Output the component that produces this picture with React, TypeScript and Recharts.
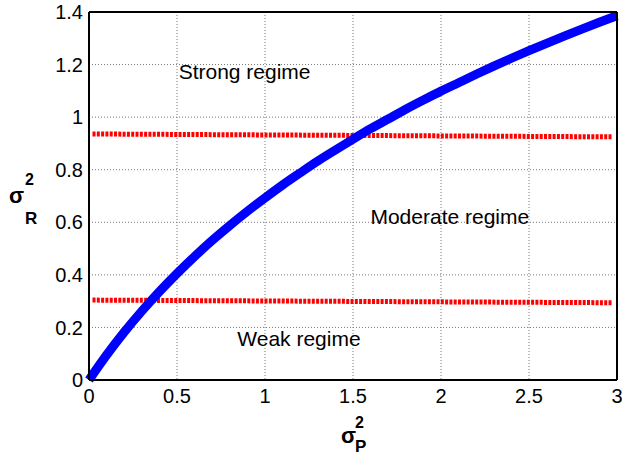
import React from "react";
import { LineChart, Line, XAxis, YAxis, CartesianGrid, ReferenceDot, Label } from "recharts";

// sigma_P^2 vs sigma_R^2 curve
const curveX = [0, 0.1, 0.2, 0.3, 0.4, 0.5, 0.6, 0.7, 0.8, 0.9, 1.0, 1.1, 1.2, 1.3, 1.4, 1.5, 1.6, 1.7, 1.8, 1.9, 2.0, 2.1, 2.2, 2.3, 2.4, 2.5, 2.6, 2.7, 2.8, 2.9, 3.0];
const curveY = [0, 0.095, 0.182, 0.262, 0.336, 0.405, 0.47, 0.531, 0.588, 0.642, 0.693, 0.742, 0.788, 0.833, 0.875, 0.916, 0.956, 0.993, 1.03, 1.065, 1.099, 1.131, 1.163, 1.194, 1.224, 1.253, 1.281, 1.308, 1.335, 1.361, 1.386];

// regime boundaries (dotted red), slightly tilted in the original
const boundX = [0.02, 2.97];
const upperBound = [0.936, 0.925];
const lowerBound = [0.304, 0.294];

const xTicks = [0, 0.5, 1, 1.5, 2, 2.5, 3];
const yTicks = [0, 0.2, 0.4, 0.6, 0.8, 1, 1.2, 1.4];

const regimeNames = ["Strong regime", "Moderate regime", "Weak regime"];
const regimeX = [0.884, 2.05, 1.193];
const regimeY = [1.175, 0.622, 0.158];

const curve = curveX.map((x, i) => ({ x, y: curveY[i] }));
const upper = boundX.map((x, i) => ({ x, y: upperBound[i] }));
const lower = boundX.map((x, i) => ({ x, y: lowerBound[i] }));

const FONT = "'Liberation Sans', Arial, Helvetica, sans-serif";
const tickStyle = { fontSize: 20, fill: "#000", fontFamily: FONT };
const frame = { stroke: "#000", strokeWidth: 2 };
const inner = { stroke: "#000", strokeWidth: 2 };
const noTick = () => <g />;

function XName(props: any) {
  const { x, y, width } = props.viewBox;
  const cx = x + width / 2;
  return (
    <g fontFamily={FONT} fontWeight="bold" fill="#000">
      <text x={cx - 12} y={y + 63} fontSize={22}>σ</text>
      <text x={cx + 2} y={y + 48} fontSize={16}>2</text>
      <text x={cx + 2} y={y + 72} fontSize={17}>P</text>
    </g>
  );
}

function YName(props: any) {
  const { y, height } = props.viewBox;
  const cy = y + height / 2;
  return (
    <g fontFamily={FONT} fontWeight="bold" fill="#000">
      <text x={9} y={cy + 7} fontSize={22}>σ</text>
      <text x={25} y={cy - 11} fontSize={16}>2</text>
      <text x={25} y={cy + 28} fontSize={17}>R</text>
    </g>
  );
}

export default function App() {
  return (
    <div style={{ position: "absolute", left: 0, top: 0, width: 622, height: 455, background: "#fff", fontFamily: FONT }}>
      <LineChart width={622} height={455} margin={{ top: 12, right: 5, left: 0, bottom: 0 }}>
        <CartesianGrid xAxisId={0} yAxisId={0} stroke="#777" strokeWidth={1} strokeDasharray="1 2" />
        <XAxis
          dataKey="x"
          type="number"
          domain={[0, 3]}
          ticks={xTicks}
          height={75}
          tickLine={false}
          tickSize={0}
          tickMargin={9}
          axisLine={frame}
          tick={tickStyle}
          allowDuplicatedCategory={false}
        >
          <Label content={<XName />} />
        </XAxis>
        <XAxis xAxisId="bi" dataKey="x" type="number" domain={[0, 3]} ticks={xTicks} mirror orientation="bottom" axisLine={false} tickLine={inner} tickSize={5} tick={noTick} />
        <XAxis xAxisId="top" dataKey="x" type="number" domain={[0, 3]} ticks={xTicks} mirror orientation="top" axisLine={frame} tickLine={inner} tickSize={5} tick={noTick} />
        <YAxis
          type="number"
          domain={[0, 1.4]}
          ticks={yTicks}
          width={89}
          tickLine={false}
          tickSize={0}
          tickMargin={6}
          axisLine={frame}
          tick={tickStyle}
        >
          <Label content={<YName />} />
        </YAxis>
        <YAxis yAxisId="li" type="number" domain={[0, 1.4]} ticks={yTicks} mirror orientation="left" axisLine={false} tickLine={inner} tickSize={5} tick={noTick} />
        <YAxis yAxisId="right" type="number" domain={[0, 1.4]} ticks={yTicks} mirror orientation="right" axisLine={frame} tickLine={inner} tickSize={5} tick={noTick} />
        <Line data={upper} dataKey="y" stroke="#ff0000" strokeWidth={5} strokeDasharray="3 1.3" dot={false} isAnimationActive={false} />
        <Line data={lower} dataKey="y" stroke="#ff0000" strokeWidth={5} strokeDasharray="3 1.3" dot={false} isAnimationActive={false} />
        <Line data={curve} dataKey="y" type="monotone" stroke="#0000ff" strokeWidth={9} dot={false} isAnimationActive={false} />
        {regimeNames.map((name, i) => (
          <ReferenceDot
            key={name}
            x={regimeX[i]}
            y={regimeY[i]}
            r={0}
            fill="none"
            stroke="none"
            label={{ value: name, position: "center", fontSize: 21, fill: "#000", fontFamily: FONT }}
          />
        ))}
      </LineChart>
    </div>
  );
}
